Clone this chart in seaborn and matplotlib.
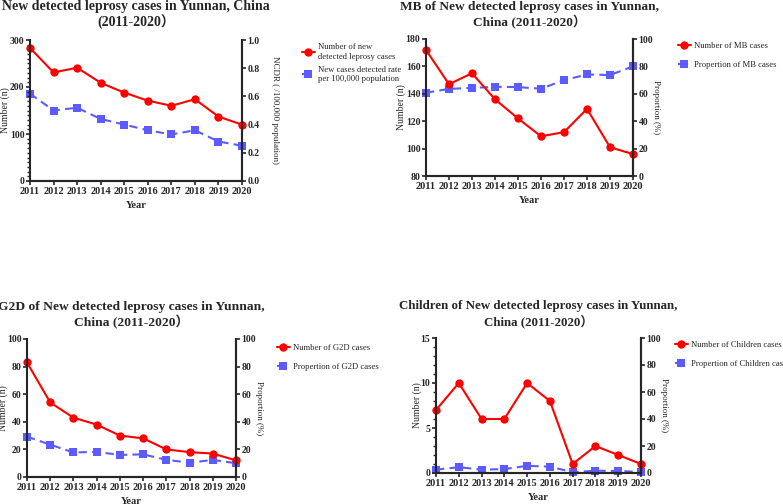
import numpy as np
import matplotlib
matplotlib.use("Agg")
import matplotlib.pyplot as plt
from matplotlib.lines import Line2D
from matplotlib.ticker import MultipleLocator, NullLocator
import seaborn as sns

# Data
years = [2011, 2012, 2013, 2014, 2015, 2016, 2017, 2018, 2019, 2020]

new_cases = [283, 231, 241, 209, 188, 171, 160, 174, 137, 120]
ncdr = [0.62, 0.50, 0.52, 0.44, 0.40, 0.36, 0.33, 0.36, 0.28, 0.25]

mb_cases = [172, 147, 155, 136, 122, 109, 112, 129, 101, 96]
mb_prop = [60.8, 63.6, 64.3, 65.1, 64.9, 63.7, 70.0, 74.1, 73.7, 80.0]

g2d_cases = [83, 54, 43, 38, 30, 28, 20, 18, 17, 12]
g2d_prop = [29.3, 23.4, 17.8, 18.2, 16.0, 16.4, 12.5, 10.3, 12.4, 10.0]

child_cases = [7, 10, 6, 6, 10, 8, 1, 3, 2, 1]
child_prop = [2.5, 4.3, 2.5, 2.9, 5.3, 4.7, 0.6, 1.7, 1.5, 0.8]

sns.set_style("ticks")
SERIF = ["Liberation Serif", "Noto Sans CJK SC", "DejaVu Sans"]
plt.rcParams["font.family"] = SERIF

RED = "#ff0000"
BLUE = "#5b5bff"
DASH = (0, (4, 2.5))

W, H = 783, 504
fig = plt.figure(figsize=(W / 100, H / 100), dpi=100)


def px_rect(l, t, r, b):
    return [l / W, 1 - b / H, (r - l) / W, (b - t) / H]


def panel(rect, title, tsize, left, right, ylim, ymajor, yminor, ylim2,
          ymajor2, ylabel2, rpad, lpad_px, lab1, lab2, leg_xy, lspace):
    ax = fig.add_axes(rect)
    ax2 = ax.twinx()
    sns.lineplot(x=years, y=left, ax=ax, color=RED, marker="o", markersize=6,
                 markeredgewidth=0, linewidth=1.5, clip_on=False)
    sns.lineplot(x=years, y=right, ax=ax2, color=BLUE, marker="s",
                 markersize=6, markeredgewidth=0, linewidth=1.5,
                 linestyle=DASH, clip_on=False)
    ax.set_zorder(ax2.get_zorder() + 1)
    ax.patch.set_visible(False)

    ax.set_xlim(2011, 2020)
    ax.set_xticks(years)
    ax.set_ylim(*ylim)
    ax.yaxis.set_major_locator(MultipleLocator(ymajor))
    if yminor:
        ax.yaxis.set_minor_locator(MultipleLocator(yminor))
    else:
        ax.yaxis.set_minor_locator(NullLocator())
    ax2.set_ylim(*ylim2)
    ax2.yaxis.set_major_locator(MultipleLocator(ymajor2))

    for a in (ax, ax2):
        for s in a.spines.values():
            s.set_linewidth(1.5)
        a.spines["top"].set_visible(False)
        a.tick_params(width=1.2, length=3, labelsize=7, pad=1)
        a.tick_params(which="minor", width=1.0, length=2)
        for t in a.get_xticklabels() + a.get_yticklabels():
            t.set_fontweight("bold")
            t.set_family(SERIF)
    ax.tick_params(axis="x", labelsize=7.5)
    ax2.spines["left"].set_visible(False)

    ax.set_xlabel("Year", fontsize=7.5, fontweight="bold", labelpad=4)
    ax.set_ylabel("Number (n)", fontsize=7)
    ax.yaxis.set_label_coords(-lpad_px / (rect[2] * W), 0.5)
    ax2.set_ylabel(ylabel2, fontsize=6.5, rotation=270, labelpad=rpad)
    ax.set_title(title, fontsize=tsize, fontweight="bold", pad=9.5,
                 linespacing=1.15)

    handles = [
        Line2D([], [], color=RED, marker="o", markersize=6, markeredgewidth=0,
               linewidth=1.5),
        Line2D([], [], color=BLUE, marker="s", markersize=6,
               markeredgewidth=0, linewidth=1.5, linestyle=DASH),
    ]
    fig.legend(handles, [lab1, lab2], loc="upper left",
               bbox_to_anchor=(leg_xy[0] / W, 1 - leg_xy[1] / H),
               bbox_transform=fig.transFigure, frameon=False, fontsize=6.2,
               handlelength=1.4, handletextpad=0.4, labelspacing=lspace,
               borderaxespad=0, borderpad=0.4)
    return ax


panel(px_rect(30, 40, 242, 181),
      "New detected leprosy cases in Yunnan, China\n(2011-2020）", 10,
      new_cases, ncdr, (0, 300), 100, 10, (0, 1.0), 0.2,
      "NCDR ( /100,000 population)", 14, 20,
      "Number of new\ndetected leprosy cases",
      "New cases detected rate\nper 100,000 population", (299, 40), 0.6)

panel(px_rect(426, 39, 633, 176),
      "MB of New detected leprosy cases in Yunnan,\nChina (2011-2020）", 9.6,
      mb_cases, mb_prop, (80, 180), 20, None, (0, 100), 20,
      "Proportion (%)", 5, 20,
      "Number of MB cases", "Propertion of MB cases", (675, 39), 1.2)

panel(px_rect(27, 339, 236, 477),
      "G2D of New detected leprosy cases in Yunnan,\nChina (2011-2020）", 9.7,
      g2d_cases, g2d_prop, (0, 100), 20, None, (0, 100), 20,
      "Proportion (%)", 5, 19,
      "Number of G2D cases", "Propertion of G2D cases", (274, 341), 1.2)

panel(px_rect(436, 338, 641, 473),
      "Children of New detected leprosy cases in Yunnan,\nChina (2011-2020）",
      9.3, child_cases, child_prop, (0, 15), 5, 1, (0, 100), 20,
      "Proportion (%)", 5, 14,
      "Number of Children cases", "Propertion of Children cases",
      (672, 338), 1.2)

fig.savefig("out.png", dpi=100)
